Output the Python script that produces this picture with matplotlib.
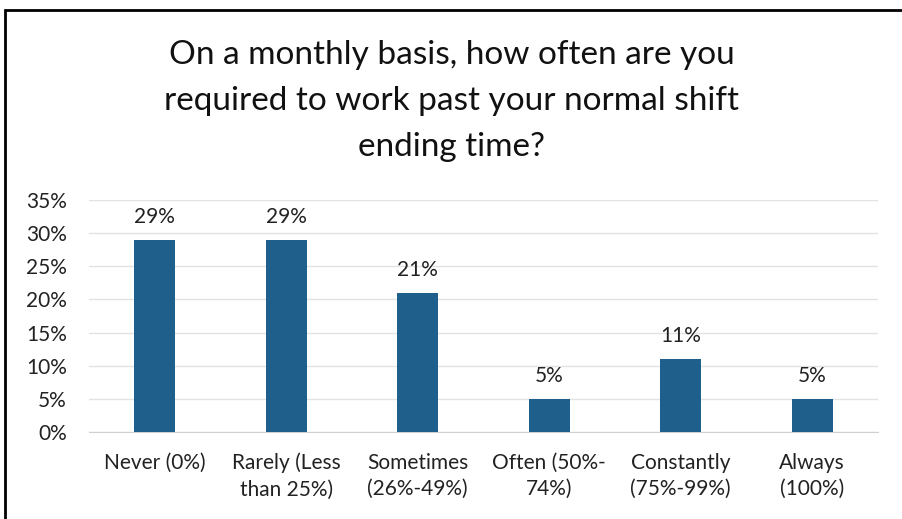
import matplotlib
matplotlib.use("Agg")
import matplotlib.pyplot as plt
from matplotlib.patches import Rectangle

plt.rcParams['font.family'] = ['Lato', 'DejaVu Sans']

categories = ["Never (0%)", "Rarely (Less\nthan 25%)", "Sometimes\n(26%-49%)",
              "Often (50%-\n74%)", "Constantly\n(75%-99%)", "Always\n(100%)"]
values = [29, 29, 21, 5, 11, 5]
yticks = [0, 5, 10, 15, 20, 25, 30, 35]

fig = plt.figure(figsize=(9.03, 5.19), dpi=100)
ax = fig.add_axes([89 / 903, 1 - 432 / 519, 789 / 903, 232 / 519])

x = range(len(categories))
ax.bar(x, values, width=0.31, color="#1F5F8B", zorder=3)
for xi, v in zip(x, values):
    ax.text(xi, v + 1.9, f"{v}%", ha="center", va="bottom", fontsize=15, color="#222222")

ax.set_xlim(-0.5, len(categories) - 0.5)
ax.set_ylim(0, 35)
ax.set_yticks(yticks)
ax.set_yticklabels([f"{t}%" for t in yticks], fontsize=15, color="#222222")
ax.set_xticks(list(x))
ax.set_xticklabels(categories, fontsize=15, color="#222222", linespacing=1.4)
ax.tick_params(axis="x", length=0, pad=15)
ax.tick_params(axis="y", length=0, pad=16)
ax.grid(axis="y", color="#E3E3E3", linewidth=1, zorder=0)
for s in ["top", "right", "left"]:
    ax.spines[s].set_visible(False)
ax.spines["bottom"].set_color("#D0D0D0")

fig.text(0.5, 1 - 101 / 519, "On a monthly basis, how often are you\nrequired to work past your normal shift\nending time?",
         ha="center", va="center", fontsize=24, linespacing=1.68, color="#111111")

# outer frame
fig.patches.append(Rectangle((5 / 903, -0.01), 1.2, 1 - 10 / 519 + 0.01, transform=fig.transFigure,
                             fill=False, edgecolor="black", linewidth=2))

fig.savefig("out.png", dpi=100)
